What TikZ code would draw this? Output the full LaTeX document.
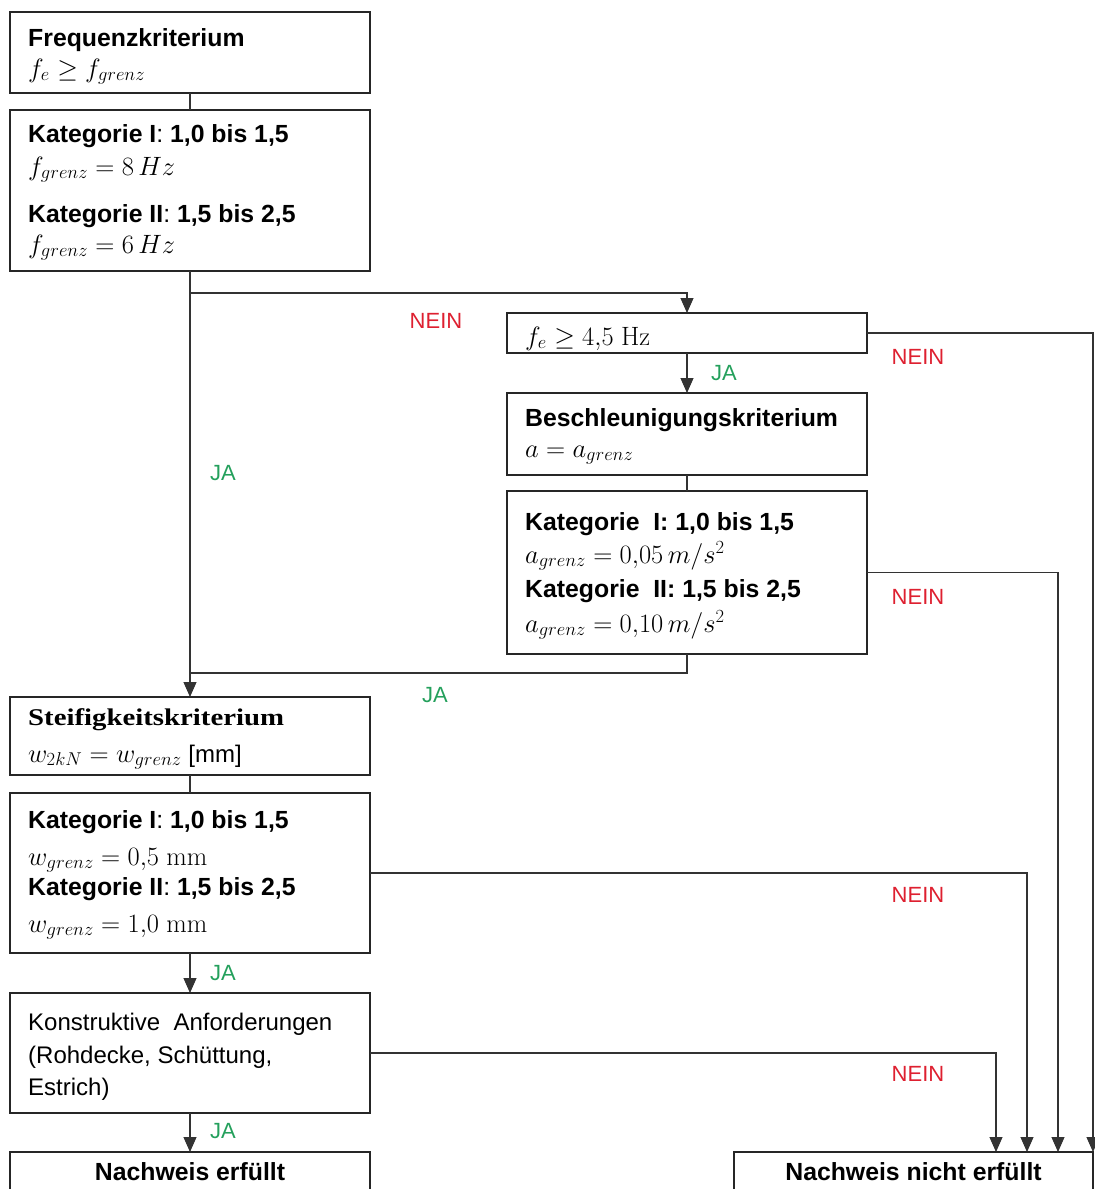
\RequirePackage{fix-cm}
\documentclass[tikz,border=0pt]{standalone}
\usepackage[no-math]{fontspec}
\setmainfont{Liberation Sans}
\newfontfamily\titleserif{Liberation Serif}
\usetikzlibrary{arrows.meta}
\definecolor{neinred}{RGB}{222,32,48}
\definecolor{jagreen}{RGB}{36,160,92}
\newcommand{\mathsz}{\fontsize{26.5}{30}\selectfont}
\newcommand{\rcolon}{{\mdseries :}}
\begin{document}
\begin{tikzpicture}[x=1pt,y=-1pt,
  box/.style={draw=black!85, line width=1.8pt, inner sep=0pt, outer sep=0pt,
              anchor=north west, minimum width=360pt},
  conn/.style={draw=black!80, line width=1.1pt},
  arr/.style={conn, -{Triangle[width=13pt,length=15pt]}},
  txt/.style={anchor=base west, inner sep=0pt, font=\fontsize{24}{28}\selectfont},
  mth/.style={anchor=base west, inner sep=0pt, font=\mathsz},
  hd/.style={anchor=base west, inner sep=0pt, font=\fontsize{24.8}{29}\selectfont\bfseries},
  nein/.style={text=neinred, inner sep=0pt, font=\fontsize{22}{26}\selectfont},
  ja/.style={text=jagreen, inner sep=0pt, font=\fontsize{22}{26}\selectfont}]

\clip (0,0) rectangle (1095,1189);

% boxes
\node[box, minimum height=81pt]  (b1) at (10,12) {};
\node[box, minimum height=161pt] (b2) at (10,110) {};
\node[box, minimum height=40pt]  (b3) at (507,313) {};
\node[box, minimum height=82pt]  (b4) at (507,393) {};
\node[box, minimum height=163pt] (b5) at (507,491) {};
\node[box, minimum height=78pt]  (b6) at (10,697) {};
\node[box, minimum height=160pt] (b7) at (10,793) {};
\node[box, minimum height=120pt] (b8) at (10,993) {};
\node[box, minimum height=70pt]  (b9) at (10,1152) {};
\node[box, minimum height=70pt, minimum width=359pt] (b10) at (734,1152) {};

% texts
\node[hd]  (t1a) at (28,46)  {Frequenzkriterium};
\node[mth] (t1b) at (28,77)  {$f_e \geq f_{grenz}$};
\node[hd]  (t2a) at (28,142) {Kategorie I\rcolon\ 1,0 bis 1,5};
\node[mth] (t2b) at (28,175) {$f_{grenz} = 8\,Hz$};
\node[hd]  (t2c) at (28,222) {Kategorie II\rcolon\ 1,5 bis 2,5};
\node[mth] (t2d) at (28,253) {$f_{grenz} = 6\,Hz$};

\node[mth] (t3a) at (525,345) {$f_e \geq 4{,}5\ \mathrm{Hz}$};
\node[hd]  (t4a) at (525,426) {Beschleunigungskriterium};
\node[mth] (t4b) at (525,457) {$a = a_{grenz}$};
\node[hd]  (t5a) at (525,530) {Kategorie\ \ I: 1,0 bis 1,5};
\node[mth] (t5b) at (525,563) {$a_{grenz} = 0{,}05\,m/s^2$};
\node[hd]  (t5c) at (525,597) {Kategorie\ \ II: 1,5 bis 2,5};
\node[mth] (t5d) at (525,632) {$a_{grenz} = 0{,}10\,m/s^2$};

\node[hd, font=\fontsize{24}{28}\selectfont\titleserif\bfseries] (t6a) at (28,725)
  {\scalebox{1.2}[1]{Steifigkeitskriterium}};
\node[txt] (t6b) at (28,762) {{\mathsz$w_{2kN} = w_{grenz}$} [mm]};
\node[hd]  (t7a) at (28,828) {Kategorie I\rcolon\ 1,0 bis 1,5};
\node[mth] (t7b) at (28,865) {$w_{grenz} = 0{,}5\ \mathrm{mm}$};
\node[hd]  (t7c) at (28,895) {Kategorie II\rcolon\ 1,5 bis 2,5};
\node[mth] (t7d) at (28,932) {$w_{grenz} = 1{,}0\ \mathrm{mm}$};

\node[txt] (t8a) at (28,1030) {Konstruktive\ \ Anforderungen};
\node[txt] (t8b) at (28,1063) {(Rohdecke, Schüttung,};
\node[txt] (t8c) at (28,1095) {Estrich)};

\node[hd, anchor=base] (t9)  at (190,1180) {Nachweis erfüllt};
\node[hd, anchor=base] (t10) at (913.5,1180) {Nachweis nicht erfüllt};

% junction points
\coordinate (s1) at (190,293);
\coordinate (j1) at (190,673);
\coordinate (e1) at (996,1152);
\coordinate (e2) at (1027,1152);
\coordinate (e3) at (1058,1152);
\coordinate (e4) at (1093,1152);

% connectors
\draw[conn] (b1.south) -- (b2.north);
\draw[arr]  (b2.south) -- (b6.north);
\draw[arr]  (s1) -| (b3.north);
\draw[arr]  (b3.south) -- (b4.north);
\draw[conn] (b4.south) -- (b5.north);
\draw[conn] (b5.south) |- (j1);
\draw[conn] (b6.south) -- (b7.north);
\draw[arr]  (b7.south) -- (b8.north);
\draw[arr]  (b8.south) -- (b9.north);
\draw[arr]  (b3.east) -| (e4);
\draw[arr]  (b5.east) -| (e3);
\draw[arr]  (b7.east) -| (e2);
\draw[arr]  (b8.east) -| (e1);

% branch labels
\node[nein] (n1) at (436,321)  {NEIN};
\node[nein] (n2) at (918,357)  {NEIN};
\node[nein] (n3) at (918,597)  {NEIN};
\node[nein] (n4) at (918,895)  {NEIN};
\node[nein] (n5) at (918,1074) {NEIN};
\node[ja]   (y1) at (223,473)  {JA};
\node[ja]   (y2) at (724,373)  {JA};
\node[ja]   (y3) at (435,695)  {JA};
\node[ja]   (y4) at (223,973)  {JA};
\node[ja]   (y5) at (223,1131) {JA};
\end{tikzpicture}
\end{document}
